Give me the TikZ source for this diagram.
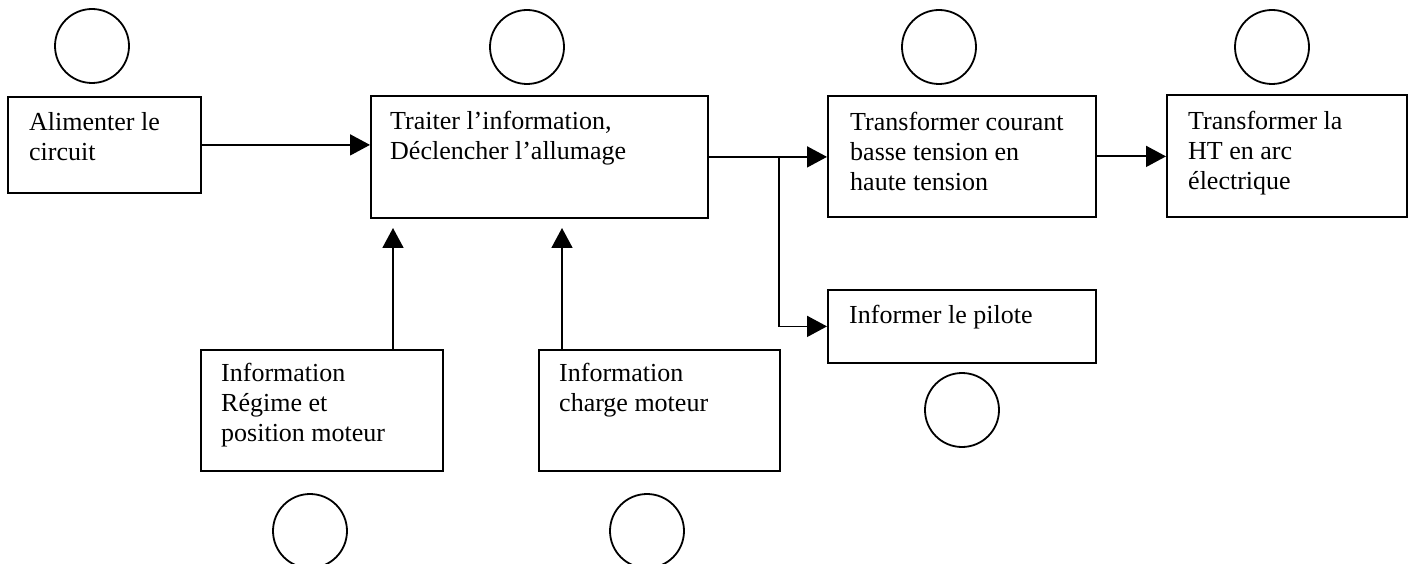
\documentclass[tikz,border=0pt]{standalone}
\usepackage{fontspec}
\setmainfont{Liberation Serif}
\usetikzlibrary{arrows.meta}
\begin{document}
\begin{tikzpicture}[x=1pt,y=-1pt,
  box/.style={draw, line width=1.8pt, rectangle, inner sep=0pt, anchor=north west},
  txt/.style={anchor=north west, inner sep=0pt, align=left, font=\fontsize{26}{30}\selectfont, execute at begin node={\rule{0pt}{20pt}}},
  ring/.style={draw, circle, line width=1.8pt, minimum size=74pt, inner sep=0pt},
  link/.style={line width=1.8pt, -{Triangle[length=20pt,width=21pt]}},
  wire/.style={line width=1.8pt}]
\useasboundingbox (0,0) rectangle (1414,564);
\clip (0,0) rectangle (1414,564);
% boxes
\node[box, minimum width=193pt, minimum height=96pt] (b1) at (7,96) {};
\node[box, minimum width=337pt, minimum height=122pt] (b2) at (370,95) {};
\node[box, minimum width=268pt, minimum height=121pt] (b3) at (827,95) {};
\node[box, minimum width=240pt, minimum height=122pt] (b4) at (1166,94) {};
\node[box, minimum width=268pt, minimum height=73pt] (b5) at (827,289) {};
\node[box, minimum width=242pt, minimum height=121pt] (b6) at (200,349) {};
\node[box, minimum width=241pt, minimum height=121pt] (b7) at (538,349) {};
% texts
\node[txt] (t1) at ([shift={(22,16)}]b1.north west) {Alimenter le\\circuit};
\node[txt] (t2) at ([shift={(20,16)}]b2.north west) {Traiter l’information,\\Déclencher l’allumage};
\node[txt] (t3) at ([shift={(23,17)}]b3.north west) {Transformer courant\\basse tension en\\haute tension};
\node[txt] (t4) at ([shift={(22,17)}]b4.north west) {Transformer la\\HT en arc\\électrique};
\node[txt] (t5) at ([shift={(22,14)}]b5.north west) {Informer le pilote};
\node[txt] (t6) at ([shift={(21,14)}]b6.north west) {Information\\Régime et\\position moteur};
\node[txt] (t7) at ([shift={(21,14)}]b7.north west) {Information\\charge moteur};
% circles
\node[ring] (c1) at (92,46) {};
\node[ring] (c2) at (527,47) {};
\node[ring] (c3) at (939,47) {};
\node[ring] (c4) at (1272,47) {};
\node[ring] (c5) at (962,410) {};
\node[ring] (c6) at (310,531) {};
\node[ring] (c7) at (647,531) {};
% connectors
\draw[link] (b1.east) -- (b1.east -| b2.west);
\draw[link] (b2.east) -- (b2.east -| b3.west);
\draw[link] (b3.east) -- (b3.east -| b4.west);
\coordinate (j) at (779,0);
\draw[link] (j |- b2.east) |- (b5.west);
\coordinate (u6) at (393,228);
\coordinate (u7) at (562,228);
\draw[link] (u6 |- b6.north) -- (u6);
\draw[link] (u7 |- b7.north) -- (u7);
\end{tikzpicture}
\end{document}
